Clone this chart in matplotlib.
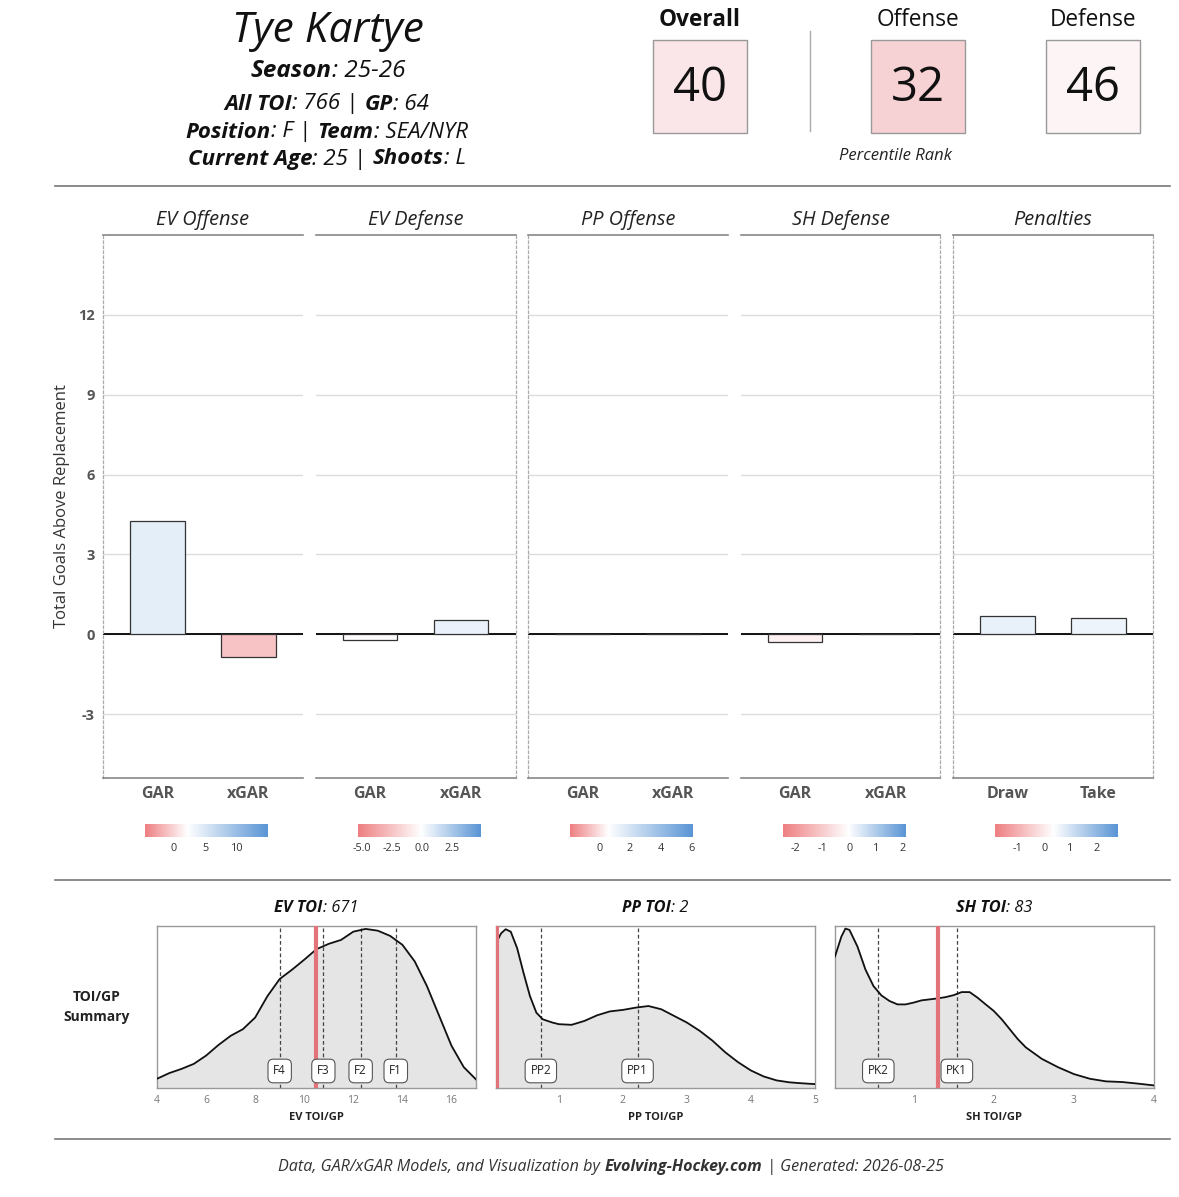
import numpy as np
import matplotlib
matplotlib.use('Agg')
import matplotlib.pyplot as plt
from matplotlib.colors import LinearSegmentedColormap, TwoSlopeNorm, Normalize
from matplotlib.patches import Rectangle
from matplotlib.lines import Line2D

plt.rcParams['font.family'] = ['Open Sans', 'DejaVu Sans']

W, H = 1179, 1197

# ---- header data ----
player = 'Tye Kartye'
season = '25-26'
all_toi = 766
games = 64
position = 'F'
team = 'SEA/NYR'
age = 25
shoots = 'L'
pct_labels = ['Overall', 'Offense', 'Defense']
pct_values = [40, 32, 46]

# ---- GAR panels ----
panels = ['EV Offense', 'EV Defense', 'PP Offense', 'SH Defense', 'Penalties']
cats = [['GAR', 'xGAR'], ['GAR', 'xGAR'], ['GAR', 'xGAR'], ['GAR', 'xGAR'], ['Draw', 'Take']]
gar_vals = [[4.25, -0.85], [-0.2, 0.55], [0.0, 0.02], [-0.3, 0.02], [0.68, 0.6]]
scale_min = [-4.4, -5.4, -1.9, -2.5, -1.86]
scale_mid = [2.2, -0.1, 0.6, -0.05, 0.35]
scale_max = [14.8, 4.9, 6.1, 2.1, 2.8]
scale_ticks = [[0, 5, 10], [-5.0, -2.5, 0.0, 2.5], [0, 2, 4, 6], [-2, -1, 0, 1, 2], [-1, 0, 1, 2]]

# ---- TOI/GP densities ----
ev_x = [4.0, 4.5, 5.0, 5.5, 6.0, 6.5, 7.0, 7.5, 8.0, 8.5, 9.0, 9.5, 10.0, 10.5,
        11.0, 11.5, 12.0, 12.5, 13.0, 13.5, 14.0, 14.5, 15.0, 15.5, 16.0, 16.5, 17.0]
ev_y = [0.057, 0.092, 0.118, 0.149, 0.200, 0.265, 0.322, 0.363, 0.435, 0.567, 0.673, 0.730,
        0.792, 0.857, 0.890, 0.914, 0.965, 0.982, 0.971, 0.939, 0.884, 0.782, 0.629, 0.445,
        0.261, 0.129, 0.053]
pp_x = [0.02, 0.1, 0.17, 0.25, 0.35, 0.45, 0.55, 0.65, 0.75, 0.9, 1.0, 1.2, 1.4, 1.6, 1.8,
        2.0, 2.2, 2.4, 2.6, 2.8, 3.0, 3.2, 3.4, 3.6, 3.8, 4.0, 4.2, 4.4, 4.6, 4.8, 5.0]
pp_y = [0.894, 0.955, 0.98, 0.965, 0.863, 0.71, 0.567, 0.465, 0.424, 0.404, 0.394, 0.39,
        0.414, 0.449, 0.473, 0.482, 0.496, 0.506, 0.486, 0.445, 0.404, 0.353, 0.292, 0.22,
        0.159, 0.108, 0.071, 0.047, 0.035, 0.029, 0.024]
sh_x = [0.02, 0.1, 0.15, 0.2, 0.3, 0.4, 0.5, 0.6, 0.7, 0.8, 0.9, 1.0, 1.1, 1.2, 1.3, 1.4,
        1.5, 1.6, 1.7, 1.8, 1.9, 2.0, 2.1, 2.2, 2.3, 2.4, 2.6, 2.8, 3.0, 3.2, 3.4, 3.6, 3.8, 4.0]
sh_y = [0.812, 0.935, 0.984, 0.976, 0.873, 0.731, 0.629, 0.571, 0.537, 0.516, 0.516, 0.527,
        0.541, 0.547, 0.553, 0.561, 0.573, 0.592, 0.592, 0.557, 0.516, 0.476, 0.424, 0.363,
        0.302, 0.251, 0.18, 0.129, 0.086, 0.057, 0.041, 0.037, 0.027, 0.016]
toi_names = ['EV TOI', 'PP TOI', 'SH TOI']
toi_totals = [671, 2, 83]
toi_pergp = [10.48, 0.03, 1.30]
role_names = [['F4', 'F3', 'F2', 'F1'], ['PP2', 'PP1'], ['PK2', 'PK1']]
role_vals = [[9.0, 10.78, 12.3, 13.73], [0.72, 2.23], [0.56, 1.54]]
dens_xlim = [(4, 17), (0.02, 5), (0.02, 4)]
dens_ticks = [[4, 6, 8, 10, 12, 14, 16], [1, 2, 3, 4, 5], [1, 2, 3, 4]]

RED = '#ee7f82'
BLUE = '#5a95d5'
bar_cmap = LinearSegmentedColormap.from_list('rwb', [RED, 'white', BLUE])
pct_cmap = LinearSegmentedColormap.from_list('pct', ['#e8848a', 'white', BLUE])
pct_norm = Normalize(0, 100)


def fx(x):
    return x / W


def fy(y):
    return 1 - y / H


fig = plt.figure(figsize=(W / 100, H / 100), dpi=100)
renderer = fig.canvas.get_renderer()


def tw(s, kw):
    t = fig.text(0, 0, s, **kw)
    w = t.get_window_extent(renderer=renderer).width
    t.remove()
    return w


def rich(xc, y, parts, size, color='#111'):
    # parts: (text, bold); text None means a plain space
    items = []
    for s, b in parts:
        kw = dict(fontsize=size, fontstyle='italic', fontweight='bold' if b else 'normal')
        if s is None:
            items.append((None, tw('a a', kw) - tw('aa', kw), kw))
        else:
            items.append((s, tw(s, kw) + 0.5, kw))
    total = sum(w for _, w, _ in items)
    x = xc - total / 2
    for s, w, kw in items:
        if s is not None:
            fig.text(fx(x), fy(y), s, ha='left', va='center', color=color, **kw)
        x += w


SP = (None, False)

# ---- header left ----
fig.text(fx(328), fy(31), player, fontsize=30.5, fontstyle='italic', ha='center', va='center', color='#111')
rich(328, 71, [('Season', True), (': ' + season, False)], 17.5)
rich(327, 104, [('All TOI', True), (': %d |' % all_toi, False), SP, ('GP', True), (': %d' % games, False)], 16)
rich(327, 132, [('Position', True), (': %s |' % position, False), SP, ('Team', True), (': ' + team, False)], 16)
rich(327, 159, [('Current Age', True), (': %d |' % age, False), SP, ('Shoots', True), (': ' + shoots, False)], 16)

# ---- header right: percentile boxes ----
for i, (lab, val, xc) in enumerate(zip(pct_labels, pct_values, [700, 918, 1093])):
    fig.text(fx(xc), fy(20), lab, fontsize=16.3, fontweight='bold' if i == 0 else 'normal',
             ha='center', va='center', color='#111')
    fig.add_artist(Rectangle((fx(xc - 47), fy(133)), 94 / W, 93 / H, transform=fig.transFigure,
                             fc=pct_cmap(pct_norm(val)), ec='#999999', lw=1))
    fig.text(fx(xc), fy(88), str(val), fontsize=34, ha='center', va='center', color='#111')
fig.add_artist(Line2D([fx(810), fx(810)], [fy(31), fy(131)], color='#aaaaaa', lw=1))
fig.text(fx(895), fy(156), 'Percentile Rank', fontsize=12, fontstyle='italic',
         ha='center', va='center', color='#222')

for yy in (186, 880, 1139):
    fig.add_artist(Line2D([fx(55), fx(1170)], [fy(yy), fy(yy)], color='#777777', lw=1.2))

# ---- GAR bar panels ----
left_dotted = [True, False, True, False, True]
right_dotted = [False, True, False, True, True]
for i in range(5):
    x0 = 103 + i * 212.5
    ax = fig.add_axes([fx(x0), fy(778), 200 / W, (778 - 235) / H])
    norm = TwoSlopeNorm(vcenter=scale_mid[i], vmin=scale_min[i], vmax=scale_max[i])
    colors = [bar_cmap(norm(v)) for v in gar_vals[i]]
    ax.set_xlim(0.4, 2.6)
    ax.set_ylim(-5.4, 15)
    ax.set_yticks([-3, 0, 3, 6, 9, 12])
    ax.grid(axis='y', color='#dcdcdc', lw=1)
    ax.set_axisbelow(True)
    ax.axhline(0, color='black', lw=1.3, zorder=2)
    ax.bar([1, 2], gar_vals[i], width=0.6, color=colors, edgecolor='#333333', lw=0.9, zorder=3)
    ax.set_xticks([1, 2])
    ax.set_xticklabels(cats[i], fontweight='bold', color='#555555', fontsize=11.5)
    ax.tick_params(length=0, pad=6)
    if i == 0:
        ax.set_yticklabels(['-3', '0', '3', '6', '9', '12'], fontsize=10.5, fontweight='bold', color='#555555')
        ax.set_ylabel('Total Goals Above Replacement', fontsize=12, color='#333333', labelpad=6)
    else:
        ax.set_yticklabels([])
    ax.set_title(panels[i], fontstyle='italic', fontsize=14.3, pad=7, color='#222222')
    for side in ('top', 'bottom'):
        ax.spines[side].set_color('#888888')
        ax.spines[side].set_linewidth(1.2)
    for side, on in (('left', left_dotted[i]), ('right', right_dotted[i])):
        if on:
            ax.spines[side].set_color('#aaaaaa')
            ax.spines[side].set_linestyle((0, (2, 2)))
            ax.spines[side].set_linewidth(0.9)
        else:
            ax.spines[side].set_visible(False)

    # colour scale under each panel
    cax = fig.add_axes([fx(145 + i * 212.5), fy(837), 123 / W, 13 / H])
    grad = np.linspace(scale_min[i], scale_max[i], 300)[None, :]
    cax.imshow(grad, aspect='auto', cmap=bar_cmap, norm=norm,
               extent=(scale_min[i], scale_max[i], 0, 1))
    cax.set_xlim(scale_min[i], scale_max[i])
    cax.set_yticks([])
    cax.set_xticks(scale_ticks[i])
    if i == 1:
        cax.set_xticklabels(['%.1f' % t for t in scale_ticks[i]])
    else:
        cax.set_xticklabels(['%d' % t for t in scale_ticks[i]])
    cax.tick_params(length=0, labelsize=7.8, colors='#333333', pad=4)
    for s in cax.spines.values():
        s.set_visible(False)

# ---- TOI/GP summary ----
fig.text(fx(97), fy(1007), 'TOI/GP\nSummary', fontsize=10, fontweight='bold', ha='center',
         va='center', color='#222222', linespacing=1.5)
dens_x = [ev_x, pp_x, sh_x]
dens_y = [ev_y, pp_y, sh_y]
dens_left = [157, 496, 835]
for j in range(3):
    ax = fig.add_axes([fx(dens_left[j]), fy(1088), 319 / W, 162 / H])
    ax.fill_between(dens_x[j], dens_y[j], 0, color='#e5e5e5', zorder=1)
    ax.plot(dens_x[j], dens_y[j], color='#111111', lw=1.3, zorder=3)
    for name, v in zip(role_names[j], role_vals[j]):
        ax.axvline(v, color='#444444', lw=0.9, ls=(0, (3, 2)), zorder=2)
        ax.text(v, 0.105, name, ha='center', va='center', fontsize=8.5, color='#222222', zorder=5,
                bbox=dict(boxstyle='round,pad=0.45', fc='white', ec='#555555', lw=0.8))
    ax.axvline(toi_pergp[j], color='#e3737b', lw=3, zorder=4)
    ax.set_xlim(*dens_xlim[j])
    ax.set_ylim(0, 1)
    ax.set_yticks([])
    ax.set_xticks(dens_ticks[j])
    ax.tick_params(length=0, labelsize=7.5, colors='#777777', pad=5)
    ax.set_xlabel(toi_names[j] + '/GP', fontsize=8, fontweight='bold', color='#222222', labelpad=4)
    for s in ax.spines.values():
        s.set_color('#999999')
        s.set_linewidth(1)
    xc = dens_left[j] + 159.5
    rich(xc, 908, [(toi_names[j], True), (': %d' % toi_totals[j], False)], 11.8)

# ---- footer ----
rich(611, 1167, [('Data, GAR/xGAR Models, and Visualization by', False), SP,
                 ('Evolving-Hockey.com', True), SP, ('| Generated: 2026-08-25', False)], 11.6, color='#333333')

fig.savefig('out.png', dpi=100)
